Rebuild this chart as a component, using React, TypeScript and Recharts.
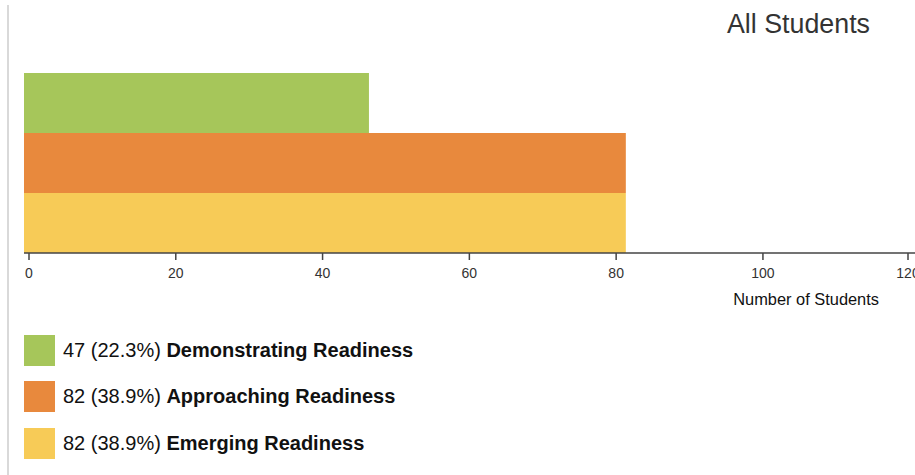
import React from 'react';
import { BarChart, Bar, XAxis, YAxis, Cell } from 'recharts';

const categories = ['Demonstrating Readiness', 'Approaching Readiness', 'Emerging Readiness'];
const counts = [47, 82, 82];
const percents = ['22.3%', '38.9%', '38.9%'];
const colors = ['#A6C65A', '#E8893D', '#F7CB57'];
const xTicks = [0, 20, 40, 60, 80, 100, 120];
const title = 'All Students';
const xLabel = 'Number of Students';

const data = categories.map((c, i) => ({ name: c, value: counts[i] }));

const FONT = '"Liberation Sans", Arial, Helvetica, sans-serif';

const Tick = (props: any) => {
  const { x, y, payload } = props;
  const tx = x + 5;
  return (
    <g>
      <line x1={tx} x2={tx} y1={y} y2={y + 7} stroke="#444" strokeWidth={1.5} />
      <text x={tx} y={y + 24.5} textAnchor="middle" fill="#333" fontSize={14} fontFamily={FONT}>
        {payload.value}
      </text>
    </g>
  );
};

const AxisLabel = () => (
  <text x={879} y={305} textAnchor="end" fill="#111" fontSize={16.4} fontFamily={FONT}>
    {xLabel}
  </text>
);

export default function App() {
  return (
    <div style={{ position: 'absolute', left: 0, top: 0, width: 915, height: 475, background: '#fff', fontFamily: FONT }}>
      <div style={{ position: 'absolute', left: 7, top: 5, width: 2, height: 470, background: '#d9d9d9' }} />
      <div style={{ position: 'absolute', right: 45, top: 6, fontSize: 26.8, color: '#333', lineHeight: '36px' }}>{title}</div>
      <div style={{ position: 'absolute', left: 0, top: 0 }}>
        <BarChart
          width={915}
          height={320}
          layout="vertical"
          data={data}
          margin={{ top: 73, right: 0, left: 24, bottom: 0 }}
          barCategoryGap={0}
        >
          <XAxis
            type="number"
            domain={[0, 121.4]}
            ticks={xTicks}
            allowDataOverflow
            height={67}
            tickSize={0}
            tickMargin={0}
            tickLine={false}
            tick={<Tick />}
            axisLine={{ stroke: '#444', strokeWidth: 1.5 }}
            label={<AxisLabel />}
          />
          <YAxis type="category" dataKey="name" hide />
          <Bar dataKey="value" isAnimationActive={false}>
            {data.map((d, i) => (
              <Cell key={d.name} fill={colors[i]} />
            ))}
          </Bar>
        </BarChart>
      </div>
      {categories.map((c, i) => (
        <div
          key={c}
          style={{ position: 'absolute', left: 24, top: [335, 381, 428][i], height: 31, display: 'flex', alignItems: 'center', fontSize: 20, color: '#111', whiteSpace: 'nowrap' }}
        >
          <div style={{ width: 31, height: 31, background: colors[i], marginRight: 8 }} />
          <span>
            {counts[i]} ({percents[i]}) <b>{c}</b>
          </span>
        </div>
      ))}
    </div>
  );
}
